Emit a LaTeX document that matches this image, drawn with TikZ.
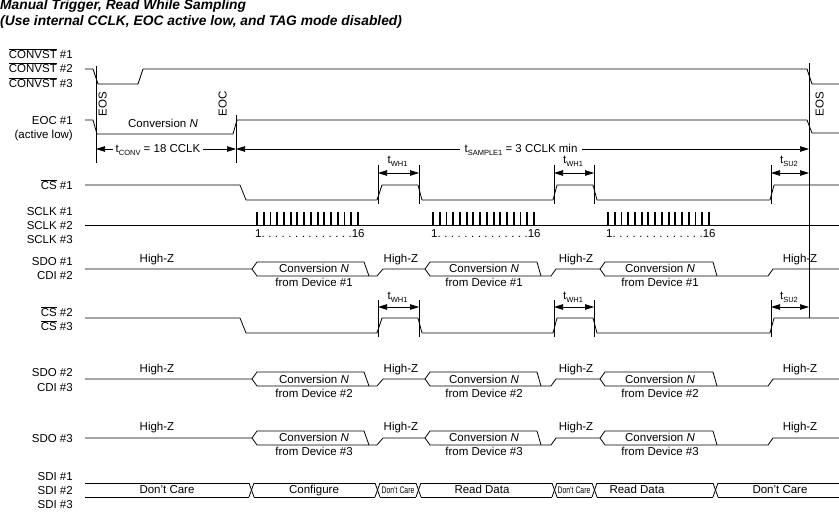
\documentclass[tikz,border=0pt]{standalone}
\usepackage{fontspec}
\usepackage{graphicx}
\setmainfont{Liberation Sans}
\usetikzlibrary{arrows.meta}
\newcommand\fsz{\fontsize{11.5}{13}\selectfont}
\newcommand\tsub[1]{t\raisebox{-2.5pt}{\fontsize{7.5}{8}\selectfont #1}}
\newcommand\ovl[1]{$\overline{\mbox{#1}}$}
\newcommand\smallcare{\scalebox{0.72}[1]{\fontsize{9.5}{9.5}\selectfont Don't Care}}
\newcommand\dd{\hspace{3.5pt}.}
\newcommand\SdoRow[3]{%
  \draw[wave] (85,#2) -- (252,#2) -- (257,#1) -- (364,#1) -- (369,#3);
  \draw[wave] (252,#2) -- (257,#3) -- (377,#3) -- (383,#2) -- (425,#2) -- (430,#1) -- (537,#1) -- (541,#3);
  \draw[wave] (425,#2) -- (430,#3) -- (551,#3) -- (556,#2) -- (600,#2) -- (605,#1) -- (713,#1) -- (717,#3);
  \draw[wave] (600,#2) -- (605,#3) -- (768,#3) -- (773,#2) -- (839,#2);
}
\begin{document}
\begin{tikzpicture}[x=1pt,y=-1pt,
  wave/.style={line width=0.8pt, line join=round},
  refline/.style={line width=0.6pt},
  lbl/.style={anchor=mid east, inner sep=0pt, font=\fsz},
  txt/.style={inner sep=0pt, font=\fsz, anchor=mid},
  dim/.style={{Triangle[length=9pt,width=5.5pt]}-{Triangle[length=9pt,width=5.5pt]}, line width=0.7pt},
  ttl/.style={anchor=base west, inner sep=0pt, font=\bfseries\itshape\fontsize{13.8}{15}\selectfont}]
\useasboundingbox (0,0) rectangle (839,512);
% title
\node[ttl] (title1) at (0,9.5) {Manual Trigger, Read While Sampling};
\node[ttl] (title2) at (0,25) {(Use internal CCLK, EOC active low, and TAG mode disabled)};
% left labels
\node[lbl] (l1) at (73,56) {\ovl{CONVST} \#1};
\node[lbl] (l2) at (73,70) {\ovl{CONVST} \#2};
\node[lbl] (l3) at (73,85) {\ovl{CONVST} \#3};
\node[lbl] (l4) at (73,122) {EOC \#1};
\node[lbl] (l5) at (73,136) {(active low)};
\node[lbl] (l6) at (73,187) {\ovl{CS} \#1};
\node[lbl] (l7) at (73,213) {SCLK \#1};
\node[lbl] (l8) at (73,227) {SCLK \#2};
\node[lbl] (l9) at (73,241) {SCLK \#3};
\node[lbl] (l10) at (73,263) {SDO \#1};
\node[lbl] (l11) at (73,277) {CDI \#2};
\node[lbl] (l12) at (73,314) {\ovl{CS} \#2};
\node[lbl] (l13) at (73,328) {\ovl{CS} \#3};
\node[lbl] (l14) at (73,374) {SDO \#2};
\node[lbl] (l15) at (73,389) {CDI \#3};
\node[lbl] (l16) at (73,440) {SDO \#3};
\node[lbl] (l17) at (73,478) {SDI \#1};
\node[lbl] (l18) at (73,492) {SDI \#2};
\node[lbl] (l19) at (73,506) {SDI \#3};
% CONVST
\draw[wave] (85,69) -- (93,69) -- (98,84) -- (138,84) -- (143,69) -- (807,69) -- (812,84) -- (839,84);
% EOC
\draw[wave] (85,120) -- (93,120) -- (97,134) -- (233,134) -- (237,120) -- (807,120) -- (812,133) -- (839,133);
% vertical reference lines
\coordinate (v1t) at (96,66); \coordinate (v1b) at (96,163);
\coordinate (v2t) at (236,115); \coordinate (v2b) at (236,163);
\coordinate (v3t) at (809,63); \coordinate (v3b) at (809,318);
\draw[refline] (v1t) -- (v1b);
\draw[refline] (v2t) -- (v2b);
\draw[refline] (v3t) -- (v3b);
\node[txt, rotate=90] (eos1) at (104,104) {EOS};
\node[txt, rotate=90] (eoc1) at (224,104) {EOC};
\node[txt, rotate=90] (eos2) at (821,104) {EOS};
\node[txt] (convN) at (163,125) {Conversion \textit{N}};
% tCONV / tSAMPLE
\coordinate (a1) at (96,149); \coordinate (a2) at (236,149); \coordinate (a3) at (809,149);
\draw[dim] (a1) -- (a2);
\draw[dim] (a2) -- (a3);
\node[txt, fill=white, inner xsep=3pt, inner ysep=1pt] (tconv) at (158,150) {\tsub{CONV} = 18 CCLK};
\node[txt, fill=white, inner xsep=5pt, inner ysep=1pt] (tsamp) at (521,150) {\tsub{SAMPLE1} = 3 CCLK min};
% CS #1
\draw[wave] (85,185) -- (240,185) -- (246,200) -- (377,200) -- (382,185) -- (418,185) -- (422,200) -- (553,200) -- (557,185) -- (593,185) -- (597,200) -- (770,200) -- (774,185) -- (839,185);
% CS #2/#3
\draw[wave] (85,318) -- (240,318) -- (246,333) -- (377,333) -- (382,318) -- (418,318) -- (422,333) -- (553,333) -- (557,318) -- (593,318) -- (597,333) -- (770,333) -- (774,318) -- (839,318);
% timing markers
\foreach \yt/\yb/\ya/\ytx [count=\k] in {165/204/173/161, 300/337/307/297}{
  \foreach \xa/\xb/\lab [count=\j] in {378/419/WH1, 554/594/WH1, 771/809/SU2}{
    \coordinate (m\k\j a) at (\xa,\yt);
    \coordinate (m\k\j b) at (\xa,\yb);
    \draw[refline] (m\k\j a) -- (m\k\j b);
    \ifnum\j<3
      \draw[refline] (\xb,\yt) -- (\xb,\yb);
    \fi
    \coordinate (d\k\j a) at (\xa,\ya);
    \coordinate (d\k\j b) at (\xb,\ya);
    \draw[dim] (d\k\j a) -- (d\k\j b);
    \node[txt] (tl\k\j) at ({(\xa+\xb)/2-1},\ytx) {\tsub{\lab}};
  }
}
% SCLK
\draw[wave] (85,225) -- (839,225);
\foreach \xs [count=\k] in {257,433,608}{
  \foreach \i in {0,...,15}{
    \draw[line width=1.9pt] ({\xs+\i*6.73},212) -- ({\xs+\i*6.73},225);
  }
  \node[anchor=mid west, inner sep=0pt, font=\fsz] (cnt\k) at (\xs-2,235) {1.\dd\dd\dd\dd\dd\dd\dd\dd\dd\dd\dd\dd\dd 16};
}
% SDO rows
\SdoRow{262}{269}{276}
\SdoRow{372}{379}{386}
\SdoRow{431}{438}{445}
\foreach \y/\d [count=\k] in {260/1, 370/2, 428/3}{
  \node[txt] (hz\k a) at (157,\y) {High-Z};
  \node[txt] (hz\k b) at (401,\y) {High-Z};
  \node[txt] (hz\k c) at (576,\y) {High-Z};
  \node[txt] (hz\k d) at (800,\y) {High-Z};
}
\foreach \y/\d [count=\k] in {270/1, 381/2, 439/3}{
  \node[txt] (cv\k a) at (314,\y) {Conversion \textit{N}};
  \node[txt] (cv\k b) at (484,\y) {Conversion \textit{N}};
  \node[txt] (cv\k c) at (660,\y) {Conversion \textit{N}};
  \node[txt] (fd\k a) at (314,\y+14) {from Device \#\d};
  \node[txt] (fd\k b) at (484,\y+14) {from Device \#\d};
  \node[txt] (fd\k c) at (660,\y+14) {from Device \#\d};
}
% SDI bus
\foreach \xa/\xb in {85/249, 254/375, 380/416, 421/552, 557/592, 597/713, 718/839}{
  \draw[wave] (\xa,483) -- (\xb,483);
  \draw[wave] (\xa,497) -- (\xb,497);
}
\foreach \x in {249,375,416,552,592,713}{
  \draw[wave] (\x,483) -- (\x+5,497);
  \draw[wave] (\x,497) -- (\x+5,483);
}
\node[txt] (s1) at (167,491) {Don't Care};
\node[txt] (s2) at (314,491) {Configure};
\node[txt] (s3) at (398,491) {\smallcare};
\node[txt] (s4) at (482,491) {Read Data};
\node[txt] (s5) at (574,491) {\smallcare};
\node[txt] (s6) at (637,491) {Read Data};
\node[txt] (s7) at (780,491) {Don't Care};
\end{tikzpicture}
\end{document}
